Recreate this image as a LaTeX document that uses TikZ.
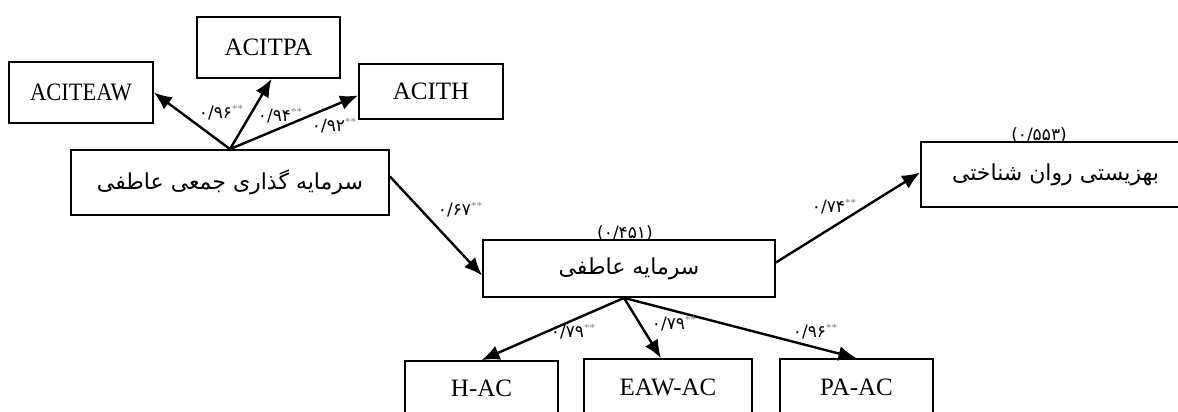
\documentclass[tikz,border=0pt]{standalone}
\usepackage{fontspec}
\setmainfont{Liberation Serif}
\newfontfamily\arabicfont[Script=Arabic]{DejaVu Sans}
\TeXXeTstate=1
\usetikzlibrary{arrows.meta,calc}
\newcommand{\fa}[1]{{\arabicfont\beginR #1\endR}}
\newcommand{\coef}[1]{{\arabicfont\fontsize{17}{19}\selectfont #1}\raisebox{6pt}{\color{gray}\fontsize{11}{11}\selectfont **}}
\tikzset{
  var/.style={draw, line width=1.8pt, inner sep=0pt, font=\fontsize{25}{29}\selectfont},
  favar/.style={var, font=\fontsize{22}{26}\selectfont},
  arr/.style={line width=2.4pt, -{Latex[length=18pt,width=15pt]}},
  lbl/.style={inner sep=0pt}
}
\begin{document}
\begin{tikzpicture}[x=1pt,y=-1pt]
  \useasboundingbox (0,0) rectangle (1178,412);
  \clip (0,0) rectangle (1178,412);
  % indicators of the collective investment
  \node[var, minimum width=144, minimum height=61] (teaw) at (81,92.5) {\scalebox{0.9}[1]{ACITEAW}};
  \node[var, minimum width=143, minimum height=61] (tpa) at (268.5,47.5) {ACITPA};
  \node[var, minimum width=144, minimum height=55] (th) at (431,91.5) {ACITH};
  % latent variables
  \node[favar, minimum width=318, minimum height=65] (aci) at (230,182.5) {\fa{سرمایه گذاری جمعی عاطفی}};
  \node[favar, minimum width=292, minimum height=57] (ac) at (629,268.5) {\fa{سرمایه عاطفی}};
  \node[favar, minimum width=269, minimum height=65] (pwb) at (1055.5,174.5) {\fa{بهزیستی روان شناختی}};
  % indicators of the affective capital
  \node[var, minimum width=153, minimum height=55] (hac) at (481.5,388.5) {H-AC};
  \node[var, minimum width=168, minimum height=57] (eawac) at (668,387.5) {EAW-AC};
  \node[var, minimum width=153, minimum height=57] (paac) at (856.5,387.5) {PA-AC};

  \coordinate (acs) at ($(ac.south)+(-5,0)$);
  \draw[arr] (aci.north) -- (teaw.east);
  \draw[arr] (aci.north) -- ($(tpa.south)+(3,0)$);
  \draw[arr] (aci.north) -- ($(th.west)+(0,4)$);
  \draw[arr] ($(aci.east)+(0,-6)$) -- ($(ac.west)+(0,7)$);
  \draw[arr] ($(ac.east)+(0,-6)$) -- ($(pwb.west)+(0,-2)$);
  \draw[arr] (acs) -- (hac.north);
  \draw[arr] (acs) -- ($(eawac.north)+(-7,0)$);
  \draw[arr] (acs) -- (paac.north);

  % path coefficients
  \node[lbl] (c1) at (221,113) {\coef{۰/۹۶}};
  \node[lbl] (c2) at (280,116) {\coef{۰/۹۴}};
  \node[lbl] (c3) at (334,126) {\coef{۰/۹۲}};
  \node[lbl] (c4) at (460,210) {\coef{۰/۶۷}};
  \node[lbl] (c5) at (834,207) {\coef{۰/۷۴}};
  \node[lbl] (c6) at (573,332) {\coef{۰/۷۹}};
  \node[lbl] (c7) at (674,324) {\coef{۰/۷۹}};
  \node[lbl] (c8) at (815,332) {\coef{۰/۹۶}};
  % explained variance
  \node[lbl, anchor=south] (r1) at ($(ac.north)+(-4,2)$) {\arabicfont\fontsize{17}{19}\selectfont(۰/۴۵۱)};
  \node[lbl, anchor=south] (r2) at (1039,143) {\arabicfont\fontsize{17}{19}\selectfont(۰/۵۵۳)};
\end{tikzpicture}
\end{document}
